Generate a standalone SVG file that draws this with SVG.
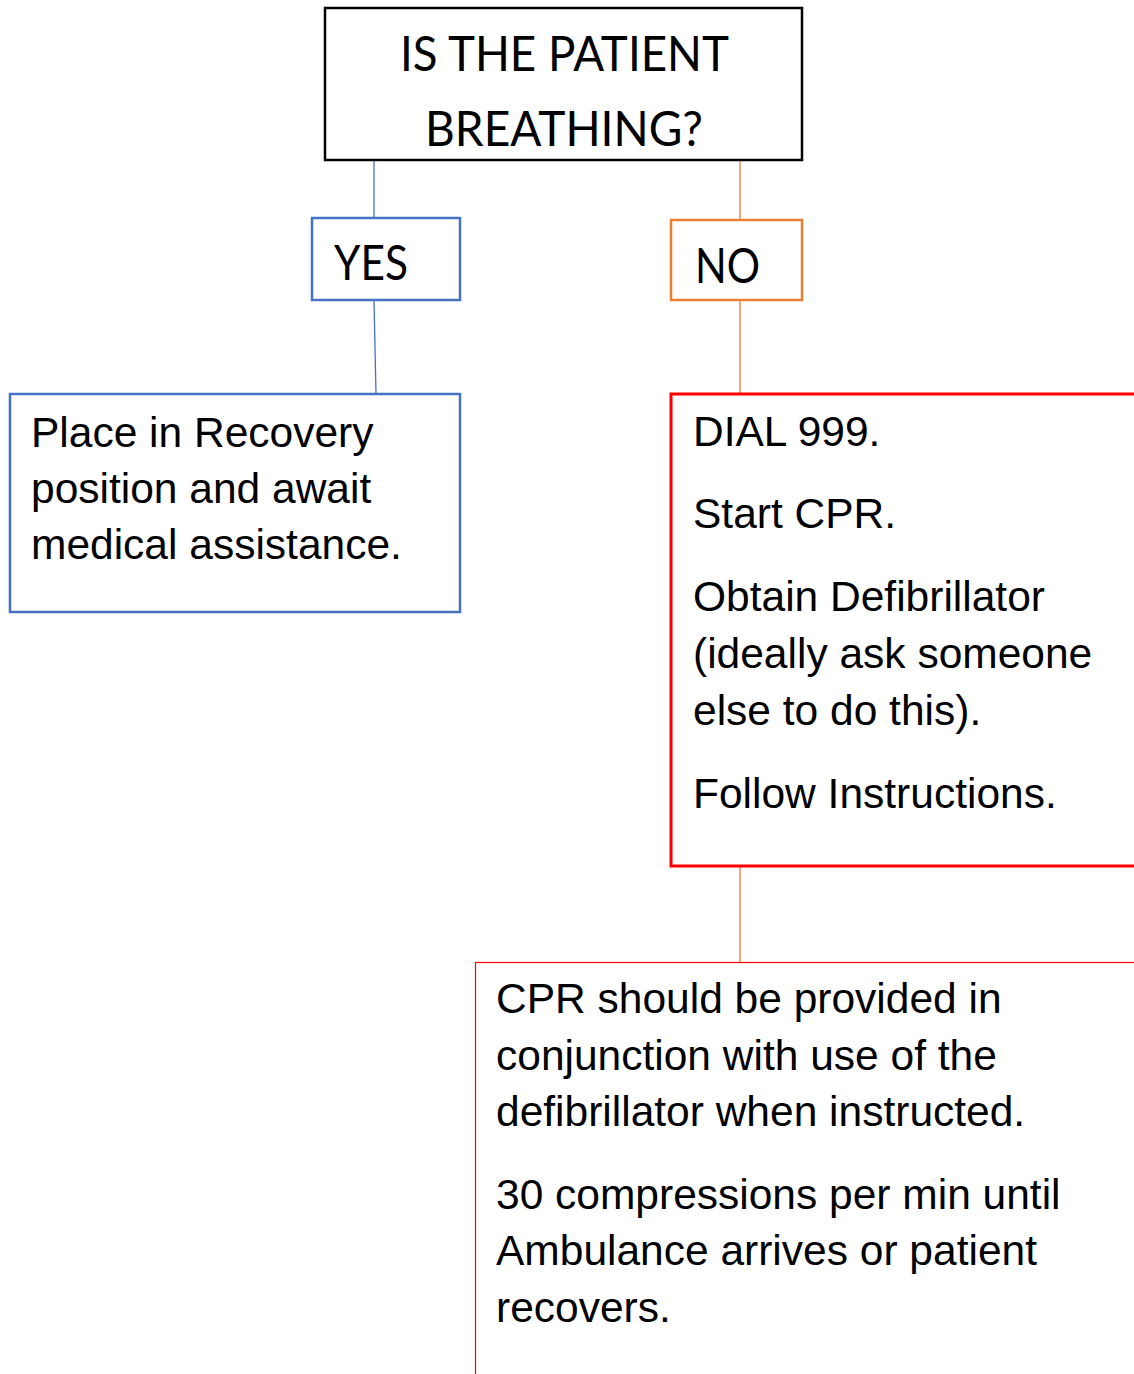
<svg xmlns="http://www.w3.org/2000/svg" width="1134" height="1374" viewBox="0 0 1134 1374">
<style>
.q{font-family:Lato,"Open Sans",sans-serif;font-size:48px;fill:#000}
.t{font-family:"Liberation Sans",Arial,sans-serif;font-size:42.5px;fill:#000}
.blue{stroke:#4472C4}
.orange{stroke:#ED7D31}
</style>
<rect width="1134" height="1374" fill="#fff"/>
<g id="connectors" fill="none" stroke-width="1.3">
<line class="blue" x1="374" y1="160" x2="374" y2="218"/>
<line class="blue" x1="374" y1="300" x2="376" y2="394"/>
<line class="orange" x1="740" y1="160" x2="740" y2="220"/>
<line class="orange" x1="740" y1="300" x2="740" y2="394"/>
<line class="orange" x1="740" y1="866" x2="740" y2="962"/>
</g>
<g id="question">
<rect x="325" y="8" width="477" height="152" fill="#fff" stroke="#000" stroke-width="2.5"/>
<text class="q" x="400" y="71" textLength="329" lengthAdjust="spacingAndGlyphs">IS THE PATIENT</text>
<text class="q" x="425" y="146" textLength="278" lengthAdjust="spacingAndGlyphs">BREATHING?</text>
</g>
<g id="yes">
<rect x="312" y="218" width="148" height="82" fill="#fff" stroke="#4472C4" stroke-width="2.5"/>
<text class="q" x="334" y="280" textLength="74" lengthAdjust="spacingAndGlyphs">YES</text>
</g>
<g id="no">
<rect x="671" y="220" width="131" height="80" fill="#fff" stroke="#ED7D31" stroke-width="2.5"/>
<text class="q" x="695" y="283" textLength="65" lengthAdjust="spacingAndGlyphs">NO</text>
</g>
<g id="recovery">
<rect x="10" y="394" width="450" height="218" fill="#fff" stroke="#4472C4" stroke-width="2.5"/>
<text class="t" x="31" y="447">Place in Recovery</text>
<text class="t" x="31" y="503">position and await</text>
<text class="t" x="31" y="559">medical assistance.</text>
</g>
<g id="cpr">
<rect x="671" y="394" width="480" height="472" fill="#fff" stroke="#FF0000" stroke-width="3"/>
<text class="t" x="693" y="446">DIAL 999.</text>
<text class="t" x="693" y="528">Start CPR.</text>
<text class="t" x="693" y="611">Obtain Defibrillator</text>
<text class="t" x="693" y="668">(ideally ask someone</text>
<text class="t" x="693" y="725">else to do this).</text>
<text class="t" x="693" y="808">Follow Instructions.</text>
</g>
<g id="continue">
<rect x="475.5" y="962.5" width="700" height="430" fill="#fff" stroke="#FF0000" stroke-width="1.2"/>
<text class="t" x="496" y="1013">CPR should be provided in</text>
<text class="t" x="496" y="1070">conjunction with use of the</text>
<text class="t" x="496" y="1126">defibrillator when instructed.</text>
<text class="t" x="496" y="1209">30 compressions per min until</text>
<text class="t" x="496" y="1265">Ambulance arrives or patient</text>
<text class="t" x="496" y="1322">recovers.</text>
</g>
</svg>
